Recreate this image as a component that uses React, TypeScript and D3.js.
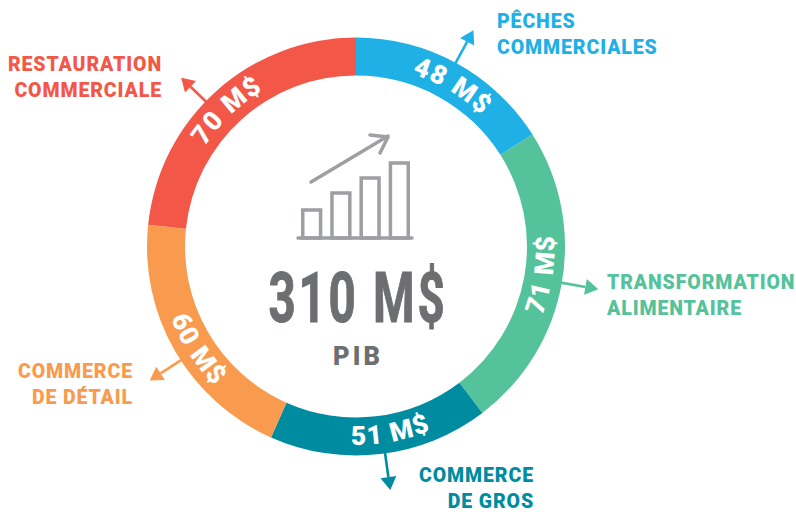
import React from "react";
import * as d3 from "d3";

const categories = ["PÊCHES COMMERCIALES", "TRANSFORMATION ALIMENTAIRE", "COMMERCE DE GROS", "COMMERCE DE DÉTAIL", "RESTAURATION COMMERCIALE"];
const values = [48, 71, 51, 60, 70];
const valueLabels = ["48 M$", "71 M$", "51 M$", "60 M$", "70 M$"];
const colors = ["#1fb0e6", "#54c29a", "#008ca0", "#f99b4f", "#f35748"];
const nameLines = [["PÊCHES", "COMMERCIALES"], ["TRANSFORMATION", "ALIMENTAIRE"], ["COMMERCE", "DE GROS"], ["COMMERCE", "DE DÉTAIL"], ["RESTAURATION", "COMMERCIALE"]];
const totalLabel = "310 M$";
const totalName = "PIB";
const iconBars = [28, 45, 60, 75];

// layout
const cx = 356, cy = 246.5, R = 209, r = 171;
const labelAngle = [31, 98.5, 169.5, 237, 316.5];
const arrowAngle = [28.5, 100, 172, 237, 314];
const arrowLen = [37, 37, 37, 37, 34];
const clockwise = [true, false, false, false, true];
const nameX = [497, 607, 534, 133, 162];
const nameY = [28, 289, 482, 378, 71];
const nameAnchor = ["start", "start", "end", "end", "end"];
const deg = Math.PI / 180;

function polar(rad: number, a: number): [number, number] {
  return [cx + rad * Math.sin(a * deg), cy - rad * Math.cos(a * deg)];
}

function textArc(a: number, cw: boolean) {
  const span = 45;
  const rad = cw ? 181.5 : 198.5;
  const from = cw ? a - span : a + span;
  const to = cw ? a + span : a - span;
  const p = d3.path();
  p.arc(cx, cy, rad, (from - 90) * deg, (to - 90) * deg, !cw);
  return p.toString();
}

export default function App() {
  const pie = d3.pie<number>().sort(null)(values);
  const arc = d3.arc<d3.PieArcDatum<number>>().innerRadius(r).outerRadius(R);
  const x = d3.scaleBand<number>().domain(iconBars).range([301, 410]).paddingInner(0.27).paddingOuter(0);
  const y = d3.scaleLinear().domain([0, 75]).range([238, 163]);
  const font = "Roboto, sans-serif";
  return (
    <svg width={796} height={512} style={{ position: "absolute", left: 0, top: 0 }}>
      <defs>
        {values.map((_, i) => (
          <path key={i} id={`t${i}`} d={textArc(labelAngle[i], clockwise[i])} fill="none" />
        ))}
      </defs>
      <g transform={`translate(${cx},${cy})`}>
        {pie.map((d, i) => (
          <path key={categories[i]} d={arc(d) || ""} fill={colors[i]} />
        ))}
      </g>
      {values.map((_, i) => {
        const [x0, y0] = polar(R - 1, arrowAngle[i]);
        const [x1, y1] = polar(R + arrowLen[i] - 13, arrowAngle[i]);
        const [tx, ty] = polar(R + arrowLen[i], arrowAngle[i]);
        const a = (arrowAngle[i] - 90) * deg;
        const nx = -Math.sin(a) * 8, ny = Math.cos(a) * 8;
        return (
          <g key={i}>
            <line x1={x0} y1={y0} x2={x1} y2={y1} stroke={colors[i]} strokeWidth={2.6} />
            <path d={`M${tx},${ty}L${x1 + nx},${y1 + ny}L${x1 - nx},${y1 - ny}Z`} fill={colors[i]} />
          </g>
        );
      })}
      {valueLabels.map((t, i) => (
        <text key={t} fill="#fff" fontFamily={font} fontWeight={900} fontSize={26.5} letterSpacing={1.3}>
          <textPath href={`#t${i}`} startOffset="50%" textAnchor="middle">{t}</textPath>
        </text>
      ))}
      {nameLines.map((lines, i) => (
        <text key={i} fill={colors[i]} fontFamily={font} fontWeight={900} fontSize={19.5} letterSpacing={0.9} textAnchor={nameAnchor[i]}>
          {lines.map((l, j) => (
            <tspan key={l} x={nameX[i]} y={nameY[i] + j * 26}>{l}</tspan>
          ))}
        </text>
      ))}
      {iconBars.map((b) => (
        <rect key={b} x={x(b)! + 1.75} y={y(b)} width={x.bandwidth() - 3.5} height={238 - y(b)} fill="none" stroke="#9d9fa2" strokeWidth={3.5} />
      ))}
      <line x1={298} x2={412} y1={238} y2={238} stroke="#9d9fa2" strokeWidth={3.5} strokeLinecap="round" />
      <path d="M311,182L388,136M370,135L388,137L380,153" fill="none" stroke="#9d9fa2" strokeWidth={3.5} strokeLinecap="round" strokeLinejoin="round" />
      <text transform="translate(358,322) scale(0.68,1)" textAnchor="middle" fill="#6d6e71" stroke="#6d6e71" strokeWidth={1} fontFamily={font} fontWeight={700} fontSize={70} letterSpacing={4}>{totalLabel}</text>
      <text x={358} y={365} textAnchor="middle" fill="#6d6e71" fontFamily={font} fontWeight={900} fontSize={25.5} letterSpacing={3}>{totalName}</text>
    </svg>
  );
}
